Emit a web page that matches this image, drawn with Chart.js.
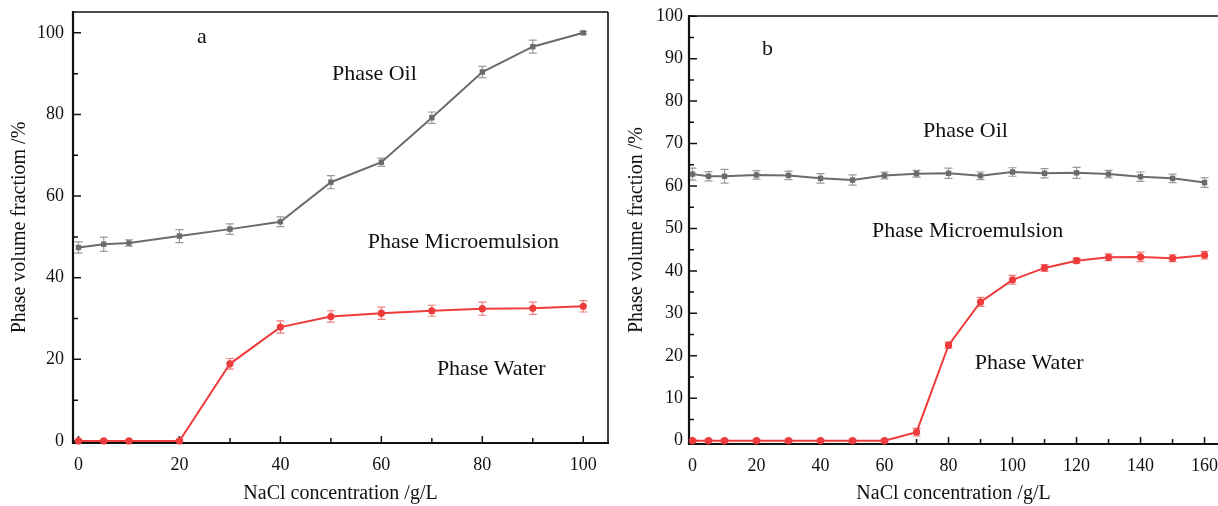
<!DOCTYPE html>
<html><head><meta charset="utf-8">
<script src="https://cdn.jsdelivr.net/npm/chart.js@4/dist/chart.umd.min.js"></script>
<style>
html,body{margin:0;padding:0;background:#fff;width:1218px;height:506px;overflow:hidden;position:relative}
#wa{position:absolute;left:0;top:0;width:615px;height:506px}
#wb{position:absolute;left:615px;top:0;width:607px;height:506px}
</style></head><body>
<div id="wa"><canvas id="ca" width="615" height="506"></canvas></div>
<div id="wb"><canvas id="cb" width="607" height="506"></canvas></div>
<script>
// ---- data: panel a ----
const xA = [0,5,10,20,30,40,50,60,70,80,90,100];
const oilA = [47.4,48.2,48.5,50.2,51.9,53.7,63.4,68.3,79.2,90.4,96.6,100];
const oilErrA = [1.4,1.75,0.8,1.6,1.3,1.2,1.6,1.0,1.4,1.4,1.6,0.3];
const waterA = [0,0,0,0,18.9,27.9,30.5,31.3,31.9,32.4,32.5,33.0];
const waterErrA = [0.3,0.3,0.3,0.3,1.3,1.5,1.4,1.5,1.35,1.6,1.5,1.4];
const xTicksA = [0,20,40,60,80,100];
const yTicksA = [0,20,40,60,80,100];
// ---- data: panel b ----
const xB = [0,5,10,20,30,40,50,60,70,80,90,100,110,120,130,140,150,160];
const oilB = [62.8,62.3,62.3,62.6,62.5,61.8,61.4,62.5,62.9,63.0,62.4,63.3,63.0,63.1,62.8,62.2,61.8,60.8];
const oilErrB = [1.4,1.1,1.6,1.0,1.0,1.1,1.2,0.8,0.8,1.2,0.9,1.0,1.1,1.3,0.9,1.1,1.0,1.1];
const waterB = [0,0,0,0,0,0,0,0,2.0,22.5,32.7,37.9,40.7,42.4,43.2,43.3,43.0,43.7];
const waterErrB = [0.3,0.3,0.3,0.3,0.4,0.3,0.4,0.3,0.9,0.7,1.05,1.05,0.8,0.6,0.8,1.1,0.8,0.9];
const xTicksB = [0,20,40,60,80,100,120,140,160];
const yTicksB = [0,10,20,30,40,50,60,70,80,90,100];

const FONT = "'Liberation Serif','Times New Roman',serif";
const GREY = '#6b6b6b', GREY_E = '#9a9a9a';
const RED = '#ee3b3b', RED_E = '#f07f7f';

function pts(xs, ys){ return xs.map((x,i)=>({x:x,y:ys[i]})); }
function noPad(s){ s.paddingTop=0; s.paddingBottom=0; s.paddingLeft=0; s.paddingRight=0; }

const errPlugin = {
  id:'err',
  beforeDatasetsDraw(chart){
    const ctx = chart.ctx, ys = chart.scales.y;
    chart.data.datasets.forEach((ds,di)=>{
      const meta = chart.getDatasetMeta(di);
      ctx.save();
      ctx.strokeStyle = ds.errColor; ctx.lineWidth = 1.2;
      meta.data.forEach((el,i)=>{
        const v = ds.data[i].y, e = ds.err[i];
        const x = el.x, y1 = ys.getPixelForValue(v+e), y2 = ys.getPixelForValue(v-e);
        ctx.beginPath();
        ctx.moveTo(x,y1); ctx.lineTo(x,y2);
        ctx.moveTo(x-4,y1); ctx.lineTo(x+4,y1);
        ctx.moveTo(x-4,y2); ctx.lineTo(x+4,y2);
        ctx.stroke();
      });
      ctx.restore();
    });
  }
};

const framePlugin = {
  id:'frame',
  beforeDatasetsDraw(chart, args, opts){
    const ctx = chart.ctx, a = chart.chartArea, xs = chart.scales.x, ys = chart.scales.y;
    ctx.save();
    ctx.strokeStyle = '#111';
    ctx.lineWidth = 1.5;
    ctx.beginPath();
    for (let v = opts.xMin; v <= xs.max; v += opts.xMinor){
      const major = Math.abs(v/opts.xMajor - Math.round(v/opts.xMajor))<1e-6;
      const p = xs.getPixelForValue(v), L = major?7:5;
      ctx.moveTo(p, a.bottom); ctx.lineTo(p, a.bottom-L);
    }
    for (let v = opts.yMin; v <= ys.max+1e-6; v += opts.yMinor){
      const major = Math.abs(v/opts.yMajor - Math.round(v/opts.yMajor))<1e-6;
      const p = ys.getPixelForValue(v), L = major?8:5;
      ctx.moveTo(a.left, p); ctx.lineTo(a.left+L, p);
    }
    ctx.stroke();
    ctx.lineWidth = 1.6;
    ctx.beginPath();
    ctx.moveTo(a.left, a.top); ctx.lineTo(a.right, a.top);
    if (opts.right){ ctx.moveTo(a.right, a.top); ctx.lineTo(a.right, a.bottom); }
    ctx.stroke();
    ctx.lineWidth = 2.2;
    ctx.beginPath();
    ctx.moveTo(a.left, a.top-1); ctx.lineTo(a.left, a.bottom); ctx.lineTo(a.right+1, a.bottom);
    ctx.stroke();
    ctx.restore();
  }
};

const labelPlugin = {
  id:'labels',
  afterDraw(chart, args, opts){
    const ctx = chart.ctx, xs = chart.scales.x, ys = chart.scales.y;
    ctx.save();
    ctx.fillStyle = '#111';
    ctx.textBaseline = 'alphabetic'; ctx.textAlign = 'left';
    opts.items.forEach(it=>{
      ctx.font = it.size + 'px ' + FONT;
      ctx.fillText(it.t, xs.getPixelForValue(it.x), ys.getPixelForValue(it.y));
    });
    ctx.restore();
  }
};

function make(id, cfg){
  return new Chart(document.getElementById(id), {
    type:'line',
    data:{datasets:[
      {data:pts(cfg.x,cfg.oil), err:cfg.oilErr, errColor:GREY_E, borderColor:GREY, backgroundColor:GREY,
       borderWidth:2, pointStyle:'rect', pointRadius:3.8, pointBorderWidth:0, tension:0, clip:false},
      {data:pts(cfg.x,cfg.water), err:cfg.waterErr, errColor:RED_E, borderColor:RED, backgroundColor:RED,
       borderWidth:2, pointStyle:'circle', pointRadius:3.6, pointBorderWidth:0, tension:0, clip:false}
    ]},
    plugins:[errPlugin, framePlugin, labelPlugin],
    options:{
      responsive:false, animation:false, events:[],
      layout:{padding:cfg.pad},
      plugins:{legend:{display:false}, tooltip:{enabled:false},
        frame:cfg.frame, labels:{items:cfg.labels}},
      scales:{
        x:{type:'linear', min:cfg.xr[0], max:cfg.xr[1],
          grid:{display:false, drawTicks:false}, border:{display:false},
          afterBuildTicks:s=>{s.ticks = cfg.xTicks.map(v=>({value:v}));},
          afterFit:s=>{s.height = cfg.xH; noPad(s);},
          ticks:{padding:cfg.xPad, color:'#111', font:{family:FONT,size:18}, maxRotation:0, autoSkip:false},
          title:{display:true, text:'NaCl concentration /g/L', color:'#111', font:{family:FONT,size:20}, padding:{top:0,bottom:0}}},
        y:{type:'linear', min:cfg.yr[0], max:cfg.yr[1],
          grid:{display:false, drawTicks:false}, border:{display:false},
          afterBuildTicks:s=>{s.ticks = cfg.yTicks.map(v=>({value:v}));},
          afterFit:s=>{s.width = cfg.yW; noPad(s);},
          ticks:{padding:cfg.yPad, color:'#111', font:{family:FONT,size:18}, autoSkip:false},
          title:{display:true, text:cfg.yTitle, color:'#111', font:{family:FONT,size:20}, padding:{top:cfg.yTitlePad,bottom:0}}}
      }
    }
  });
}

make('ca', {
  x:xA, oil:oilA, oilErr:oilErrA, water:waterA, waterErr:waterErrA,
  xTicks:xTicksA, yTicks:yTicksA, xr:[-1.09,104.9], yr:[-0.5,105.1],
  pad:{top:12,right:7,left:0,bottom:0}, xH:63, yW:73, xPad:11, yPad:9, yTitlePad:8,
  yTitle:'Phase volume fractiom /%',
  frame:{xMin:0,xMinor:10,xMajor:20,yMin:0,yMinor:10,yMajor:20,right:true},
  labels:[
    {t:'a', x:23.5, y:97.5, size:22},
    {t:'Phase Oil', x:50.2, y:88.5, size:22},
    {t:'Phase Microemulsion', x:57.3, y:47.3, size:22},
    {t:'Phase Water', x:71.0, y:16.2, size:22}
  ]
});

make('cb', {
  x:xB, oil:oilB, oilErr:oilErrB, water:waterB, waterErr:waterErrB,
  xTicks:xTicksB, yTicks:yTicksB, xr:[-1.1,164.2], yr:[-0.78,100.05],
  pad:{top:16,right:0,left:0,bottom:0}, xH:62, yW:74, xPad:11, yPad:6, yTitlePad:10,
  yTitle:'Phase volume fraction /%',
  frame:{xMin:0,xMinor:10,xMajor:20,yMin:0,yMinor:5,yMajor:10,right:false},
  labels:[
    {t:'b', x:21.7, y:90.8, size:22},
    {t:'Phase Oil', x:72.0, y:71.5, size:22},
    {t:'Phase Microemulsion', x:56.1, y:48.0, size:22},
    {t:'Phase Water', x:88.2, y:16.9, size:22}
  ]
});
</script>
</body></html>
